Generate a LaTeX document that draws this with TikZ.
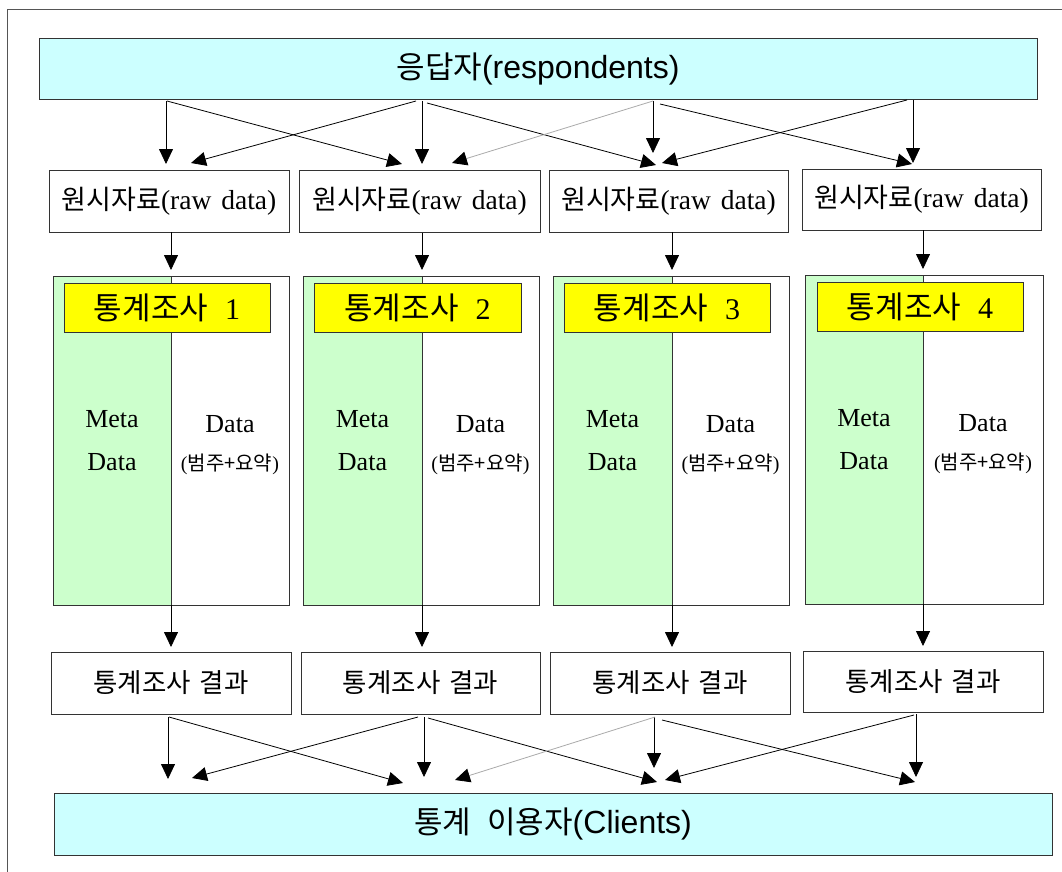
\documentclass[tikz,border=0pt]{standalone}
\usepackage{fontspec}
\setmainfont{Liberation Serif}
\newfontfamily\kr{Noto Sans CJK KR}
\newfontfamily\ls{Liberation Sans}
\usetikzlibrary{arrows.meta}
\definecolor{cyanfill}{HTML}{CCFFFF}
\definecolor{greenfill}{HTML}{CCFFCC}
\definecolor{yellowfill}{HTML}{FFFF00}
\definecolor{edgegray}{HTML}{333333}
\definecolor{framegray}{HTML}{555555}
\definecolor{lightline}{HTML}{AAAAAA}
\begin{document}
\begin{tikzpicture}[x=1pt,y=-1pt,
  box/.style={draw=edgegray, line width=0.9pt, inner sep=0pt, outer sep=0pt, rectangle},
  bigbox/.style={box, fill=cyanfill, minimum width=998pt, minimum height=61pt},
  rawbox/.style={box, fill=white, minimum width=240pt, minimum height=62pt, font=\fontsize{27.5}{30}\selectfont},
  metabox/.style={box, fill=greenfill, minimum height=329pt, align=center, font=\fontsize{26}{43}\selectfont},
  databox/.style={box, fill=white, minimum height=329pt},
  datalabel/.style={align=center, inner sep=0pt, yshift=-5pt, font=\fontsize{26}{40}\selectfont},
  titlebox/.style={box, fill=yellowfill, minimum width=206pt, minimum height=49pt, font=\fontsize{30}{32}\selectfont},
  resbox/.style={box, fill=white, minimum width=240pt, minimum height=62pt, font=\kr\fontsize{26.5}{30}\selectfont},
  arr/.style={draw=black, line width=0.8pt, -{Triangle[length=15pt,width=14pt]}},
  grayarr/.style={draw=lightline, line width=0.8pt, -{Triangle[length=15pt,width=14pt,color=black]}}
]
\useasboundingbox (0,0) rectangle (1062,872);
\fill[white] (0,0) rectangle (1062,872);
\draw[framegray, line width=0.8pt] (7,872) -- (7,9) -- (1062,9);

% top and bottom bars
\node[bigbox] (top) at (538,69) {{\kr\fontsize{31}{34}\selectfont 응답자}{\ls\fontsize{32}{34}\selectfont (respondents)}};
\node[bigbox, minimum height=62pt] (bottom) at (553,824) {{\kr\fontsize{31}{34}\selectfont 통계\hspace{16pt}이용자}{\ls\fontsize{32}{34}\selectfont (Clients)}};

% raw data boxes
\newcommand{\rawtext}{{\kr\fontsize{27}{30}\selectfont 원시자료}(raw\hspace{3pt} data)}
\node[rawbox] (raw1) at (169,201) {\rawtext};
\node[rawbox, minimum width=241pt] (raw2) at (419.5,201.5) {\rawtext};
\node[rawbox, minimum width=239pt] (raw3) at (668.5,201) {\rawtext};
\node[rawbox, minimum width=239pt, minimum height=61pt] (raw4) at (921.5,199.5) {\rawtext};

% survey boxes
\newcommand{\metatext}{Meta\\Data}
\newcommand{\datatext}{Data\\[-2pt]{\fontsize{20}{22}\selectfont({\kr 범주+요약})}}
\node[metabox, minimum width=118pt] (meta1) at (112,440.5) {\metatext};
\node[databox, minimum width=118pt, label={[datalabel]center:\datatext}] (data1) at (230,440.5) {};
\node[metabox, minimum width=119pt] (meta2) at (362.5,440.5) {\metatext};
\node[databox, minimum width=117pt, label={[datalabel]center:\datatext}] (data2) at (480.5,440.5) {};
\node[metabox, minimum width=119pt] (meta3) at (612.5,440.5) {\metatext};
\node[databox, minimum width=117pt, label={[datalabel]center:\datatext}] (data3) at (730.5,440.5) {};
\node[metabox, minimum width=118pt] (meta4) at (864,439.5) {\metatext};
\node[databox, minimum width=120pt, label={[datalabel]center:\datatext}] (data4) at (983,439.5) {};

\newcommand{\titletext}[1]{{\kr\fontsize{31}{34}\selectfont 통계조사}\hspace{17pt}#1}
\node[titlebox] (title1) at (167,307.5) {\titletext{1}};
\node[titlebox, minimum width=207pt] (title2) at (417.5,308) {\titletext{2}};
\node[titlebox] (title3) at (667,308) {\titletext{3}};
\node[titlebox] (title4) at (920,306.5) {\titletext{4}};

% result boxes
\node[resbox] (res1) at (171,683) {통계조사\hspace{9pt}결과};
\node[resbox, minimum width=239pt] (res2) at (420.5,683) {통계조사\hspace{9pt}결과};
\node[resbox] (res3) at (670,683) {통계조사\hspace{9pt}결과};
\node[resbox, minimum height=61pt] (res4) at (923,681.5) {통계조사\hspace{9pt}결과};

% raw -> survey, survey -> results
\foreach \i in {1,2,3,4} {
  \draw[arr] (raw\i.south -| data\i.west) -- ([yshift=6pt]data\i.north west);
  \draw[arr] (data\i.south west) -- ([yshift=5pt]res\i.north -| data\i.west);
}

% arrow end points, top fan
\coordinate (a11s) at (166,101); \coordinate (a11e) at (166,164);
\coordinate (a12s) at (167,101); \coordinate (a12e) at (402,164);
\coordinate (a21s) at (416,101); \coordinate (a21e) at (191,163);
\coordinate (a22s) at (422,101); \coordinate (a22e) at (422,164);
\coordinate (a23s) at (427,103); \coordinate (a23e) at (656,165);
\coordinate (a32s) at (653,101); \coordinate (a32e) at (452,163);
\coordinate (a33s) at (653,101); \coordinate (a33e) at (653,153);
\coordinate (a34s) at (660,104); \coordinate (a34e) at (912,164);
\coordinate (a43s) at (907,100); \coordinate (a43e) at (662,163);
\coordinate (a44s) at (913,100); \coordinate (a44e) at (913,163);
\foreach \p in {11,12,21,22,23,33,34,43,44} {
  \draw[arr] (a\p s) -- (a\p e);
}
\draw[grayarr] (a32s) -- (a32e);

% bottom fan
\coordinate (b11s) at (168,717); \coordinate (b11e) at (168,779);
\coordinate (b12s) at (169,717); \coordinate (b12e) at (403,783);
\coordinate (b21s) at (418,717); \coordinate (b21e) at (192,778);
\coordinate (b22s) at (424,717); \coordinate (b22e) at (424,777);
\coordinate (b23s) at (428,718); \coordinate (b23e) at (657,782);
\coordinate (b32s) at (655,717); \coordinate (b32e) at (455,780);
\coordinate (b33s) at (654,717); \coordinate (b33e) at (654,768);
\coordinate (b34s) at (662,720); \coordinate (b34e) at (915,782);
\coordinate (b43s) at (914,715); \coordinate (b43e) at (665,780);
\coordinate (b44s) at (916,714); \coordinate (b44e) at (916,777);
\foreach \p in {11,12,21,22,23,33,34,43,44} {
  \draw[arr] (b\p s) -- (b\p e);
}
\draw[grayarr] (b32s) -- (b32e);
\end{tikzpicture}
\end{document}
